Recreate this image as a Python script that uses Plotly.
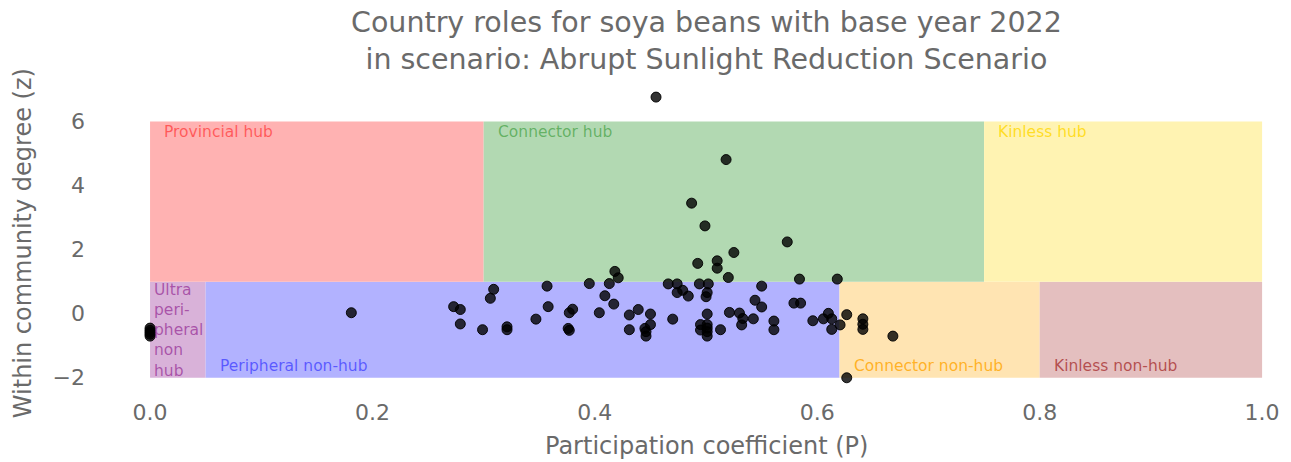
import plotly.graph_objects as go

# Participation coefficient (P) and within-community degree (z) per country
p_values = [
    0.0, 0.0, 0.0, 0.0, 0.0,
    0.181,
    0.273, 0.279, 0.279, 0.299, 0.306, 0.309, 0.321, 0.321,
    0.347, 0.357, 0.358, 0.376, 0.377, 0.377, 0.380, 0.395,
    0.404, 0.409, 0.413, 0.417, 0.418, 0.421, 0.431, 0.431,
    0.439, 0.445, 0.446, 0.446, 0.450, 0.450, 0.455, 0.466,
    0.470, 0.474, 0.474, 0.479, 0.484, 0.487, 0.4925, 0.494,
    0.495, 0.495, 0.499, 0.500, 0.501, 0.502, 0.501, 0.501,
    0.501, 0.501, 0.501, 0.510, 0.510, 0.513, 0.518, 0.520,
    0.521, 0.525, 0.530, 0.533, 0.532, 0.5425, 0.544, 0.550,
    0.550, 0.561, 0.561, 0.573, 0.579, 0.585, 0.584, 0.596,
    0.6055, 0.610, 0.613, 0.613, 0.618, 0.6205, 0.6265, 0.6265,
    0.641, 0.641, 0.641, 0.668,
]
z_values = [
    -0.45, -0.52, -0.58, -0.64, -0.70,
    0.03,
    0.22, 0.13, -0.32, -0.50, 0.48, 0.76, -0.41, -0.50,
    -0.17, 0.86, 0.22, -0.46, -0.52, 0.03, 0.14, 0.94,
    0.03, 0.56, 0.94, 0.30, 1.32, 1.12, -0.04, -0.50,
    0.13, -0.46, -0.56, -0.70, -0.01, -0.34, 6.76, 0.93,
    -0.17, 0.93, 0.66, 0.73, 0.55, 3.45, 1.57, 0.93,
    -0.34, -0.51, 2.74, 0.53, 0.66, 0.93, -0.01, -0.34,
    -0.45, -0.56, -0.70, 1.65, 1.42, -0.50, 4.81, 1.13,
    0.04, 1.91, 0.02, -0.15, -0.35, -0.16, 0.42, 0.86,
    0.21, -0.23, -0.50, 2.24, 0.33, 0.33, 1.08, -0.22,
    -0.16, 0.01, -0.16, -0.49, 1.08, -0.35, -0.03, -2.00,
    -0.16, -0.33, -0.49, -0.70,
]

# Role regions: name, P range, z range, fill colour, label colour
role_names = ["Ultra peripheral non hub", "Peripheral non-hub", "Connector non-hub",
              "Kinless non-hub", "Provincial hub", "Connector hub", "Kinless hub"]
role_p0 = [0.00, 0.05, 0.62, 0.80, 0.00, 0.30, 0.75]
role_p1 = [0.05, 0.62, 0.80, 1.00, 0.30, 0.75, 1.00]
role_z0 = [-2, -2, -2, -2, 1, 1, 1]
role_z1 = [1, 1, 1, 1, 6, 6, 6]
role_fill = ["#d9b2d9", "#b2b2ff", "#ffe4b2", "#e4bfbf", "#ffb2b2", "#b2d9b2", "#fff3b2"]
role_text = ["rgba(128,0,128,0.55)", "rgba(0,0,255,0.5)", "rgba(255,165,0,0.8)",
             "rgba(165,42,42,0.75)", "rgba(255,0,0,0.5)", "rgba(0,128,0,0.45)",
             "rgba(255,215,0,0.8)"]
role_labels = ["Ultra<br>peri-<br>pheral<br>non<br>hub", "Peripheral non-hub",
               "Connector non-hub", "Kinless non-hub", "Provincial hub",
               "Connector hub", "Kinless hub"]

title_lines = ["Country roles for soya beans with base year 2022",
               "in scenario: Abrupt Sunlight Reduction Scenario"]
x_title = "Participation coefficient (P)"
y_title = "Within community degree (z)"

x_ticks = [0.0, 0.2, 0.4, 0.6, 0.8, 1.0]
y_ticks = [-2, 0, 2, 4, 6]

FONT = "DejaVu Sans, Verdana, sans-serif"
GREY = "#6a6a6a"
LEFT, PLOT_W = 86, 1205

fig = go.Figure()

shapes = []
annotations = []
for i in range(len(role_names)):
    shapes.append(dict(type="rect", xref="x", yref="y", layer="below",
                       x0=role_p0[i], x1=role_p1[i], y0=role_z0[i], y1=role_z1[i],
                       fillcolor=role_fill[i], line=dict(width=0)))
    is_hub = role_z0[i] == 1
    is_ultra = i == 0
    if is_hub:
        annotations.append(dict(
            x=role_p0[i] + 0.011, y=role_z1[i],
            xref="x", yref="y", xanchor="left", yanchor="top",
            text=role_labels[i], showarrow=False, align="left",
            font=dict(family=FONT, size=15.5, color=role_text[i])))
    elif is_ultra:
        annotations.append(dict(
            x=role_p0[i] + 0.002, y=role_z1[i], yshift=3,
            xref="x", yref="y", xanchor="left", yanchor="top",
            text=role_labels[i], showarrow=False, align="left",
            font=dict(family=FONT, size=15.5, color=role_text[i])))
    else:
        annotations.append(dict(
            x=role_p0[i] + 0.011, y=role_z0[i], yshift=1,
            xref="x", yref="y", xanchor="left", yanchor="bottom",
            text=role_labels[i], showarrow=False, align="left",
            font=dict(family=FONT, size=15.5, color=role_text[i])))

fig.add_trace(go.Scatter(
    x=p_values, y=z_values, mode="markers", cliponaxis=False,
    marker=dict(size=10, color="rgba(0,0,0,0.8)",
                line=dict(width=1, color="rgba(0,0,0,0.9)")),
    showlegend=False, hoverinfo="x+y"))

# Title and axis titles
annotations.append(dict(
    x=0.5, y=1.135, xref="x", yref="paper", xanchor="center", yanchor="middle",
    text="<br>".join(title_lines), showarrow=False,
    font=dict(family=FONT, size=28.5, color=GREY)))
annotations.append(dict(
    x=0.5, y=-0.155, xref="x", yref="paper", xanchor="center", yanchor="middle",
    text=x_title, showarrow=False, font=dict(family=FONT, size=24, color=GREY)))
annotations.append(dict(
    x=(23 - LEFT) / PLOT_W, y=0.49, xref="paper", yref="paper",
    xanchor="center", yanchor="middle",
    text=y_title, textangle=-90, showarrow=False,
    font=dict(family=FONT, size=24, color=GREY)))

fig.update_layout(
    width=1291, height=462,
    margin=dict(l=LEFT, r=0, t=83, b=65),
    paper_bgcolor="white", plot_bgcolor="white",
    shapes=shapes, annotations=annotations,
    xaxis=dict(range=[-0.0576, 1.026], tickvals=x_ticks, tickformat=".1f",
               showgrid=False, zeroline=False, showline=False, ticks="",
               tickfont=dict(family=FONT, size=22, color=GREY)),
    yaxis=dict(range=[-2.6, 7.2], tickvals=y_ticks,
               showgrid=False, zeroline=False, showline=False, ticks="",
               tickfont=dict(family=FONT, size=22, color=GREY)),
)

fig.write_html("out.html")
